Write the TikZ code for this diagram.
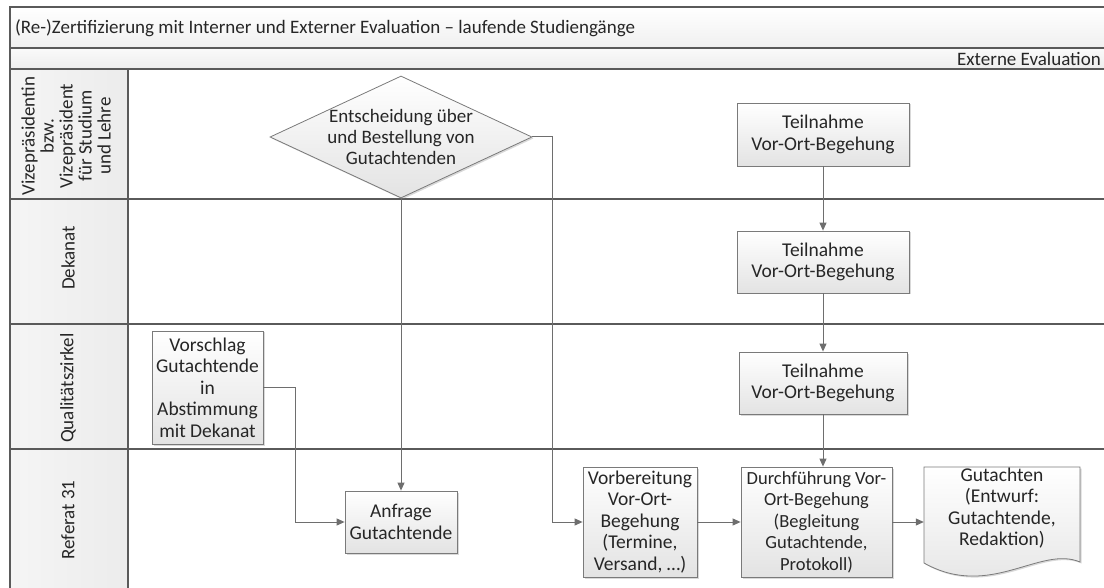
\documentclass[tikz,border=0pt]{standalone}
\usepackage{fontspec}
\setmainfont{Carlito}
\usetikzlibrary{arrows.meta,shapes.geometric,shadows}
\definecolor{frame}{HTML}{5A5A5A}
\definecolor{conn}{HTML}{6E6E6E}
\definecolor{boxline}{HTML}{7A7A7A}
\begin{document}
\begin{tikzpicture}[x=1pt,y=-1pt,
  txt/.style={font=\fontsize{19.5}{21.5}\selectfont, align=center, text=black!85},
  shd/.style={drop shadow={shadow xshift=1.5pt,shadow yshift=-1.5pt,opacity=0.3}},
  box/.style={txt, draw=boxline, line width=0.8pt, top color=white, bottom color=gray!22, inner sep=0pt, shd},
  conn/.style={draw=conn, line width=1pt},
  arr/.style={conn, -{Triangle[length=8pt,width=7pt]}},
  lanelabel/.style={font=\fontsize{19}{19}\selectfont, align=center, rotate=90, text=black!85},
  frameline/.style={draw=frame, line width=1.2pt}]
\useasboundingbox (0,0) rectangle (1104,588);
\clip (0,0) rectangle (1104,588);
% bands
\path[top color=white, bottom color=gray!12] (10,7) rectangle (1110,48);
\path[top color=gray!4, bottom color=gray!14] (10,48) rectangle (1110,69);
\foreach \a/\b in {69/199,199/324,324/449,449/600}
  \path[left color=gray!8, middle color=white, right color=gray!15] (10,\a) rectangle (128,\b);
% frame lines
\draw[frameline] (10,600) -- (10,7) -- (1110,7);
\draw[frameline] (10,48) -- (1110,48);
\draw[frameline] (10,69) -- (1110,69);
\draw[frameline] (10,199) -- (1110,199);
\draw[frameline] (10,324) -- (1110,324);
\draw[frameline] (10,449) -- (1110,449);
\draw[frameline] (128,69) -- (128,600);
% texts
\node[txt, font=\fontsize{19}{21}\selectfont, anchor=west, inner sep=0pt] (title) at (15,28) {(Re-)Zertifizierung mit Interner und Externer Evaluation – laufende Studiengänge};
\node[txt, font=\fontsize{19}{21}\selectfont, anchor=east, inner sep=0pt] (ext) at (1101,59) {Externe Evaluation};
\node[lanelabel] (l1) at (66,136) {Vizepräsidentin\\bzw.\\Vizepräsident\\für Studium\\und Lehre};
\node[lanelabel] (l2) at (68,258) {Dekanat};
\node[lanelabel] (l3) at (68,388) {Qualitätszirkel};
\node[lanelabel] (l4) at (68,520) {Referat 31};
% shapes
\node[diamond, draw=boxline, line width=0.8pt, minimum width=262pt, minimum height=122pt, inner sep=0pt, top color=white, bottom color=gray!22, shd] (dia) at (401,137) {};
\node[txt, font=\fontsize{19}{21}\selectfont] (diat) at (401,137) {Entscheidung über\\und Bestellung von\\Gutachtenden};
\node[box, minimum width=111pt, minimum height=113pt] (vor) at (207.5,387.5) {Vorschlag\\Gutachtende\\in\\Abstimmung\\mit Dekanat};
\node[box, minimum width=112pt, minimum height=62pt] (anf) at (401,522) {Anfrage\\Gutachtende};
\node[box, minimum width=114pt, minimum height=110pt] (vbr) at (640,522) {Vorbereitung\\Vor-Ort-\\Begehung\\(Termine,\\Versand, …)};
\node[box, font=\fontsize{18.5}{21.5}\selectfont, minimum width=151pt, minimum height=110pt] (dur) at (816.5,522) {Durchführung Vor-\\Ort-Begehung\\(Begleitung\\Gutachtende,\\Protokoll)};
\node[box, minimum width=172pt, minimum height=63pt] (t1) at (823,134.5) {Teilnahme\\Vor-Ort-Begehung};
\node[box, minimum width=172pt, minimum height=62pt] (t2) at (823,262) {Teilnahme\\Vor-Ort-Begehung};
\node[box, minimum width=168pt, minimum height=62pt] (t3) at (823,383) {Teilnahme\\Vor-Ort-Begehung};
\path[draw=boxline, line width=0.8pt, top color=white, bottom color=gray!22, shd]
  (924,467) -- (1080,467) -- (1080,562) .. controls (1040,545) and (990,600) .. (924,563) -- cycle;
\node[txt, minimum width=156pt, inner sep=0pt] (gut) at (1002,508) {Gutachten\\(Entwurf:\\Gutachtende,\\Redaktion)};
% connectors
\coordinate (c1) at (552,137);
\coordinate (c2) at (295,387.5);
\draw[arr] (dia.south) -- (anf.north);
\draw[arr] (dia.east) -- (c1) |- (vbr.west);
\draw[arr] (vor.east) -- (c2) |- (anf.west);
\draw[arr] (t1) -- (t2);
\draw[arr] (t2) -- (t3);
\draw[arr] (t3.south) -- (t3.south |- dur.north);
\draw[arr] (vbr) -- (dur);
\draw[arr] (dur.east) -- (dur.east -| gut.west);
\end{tikzpicture}
\end{document}
